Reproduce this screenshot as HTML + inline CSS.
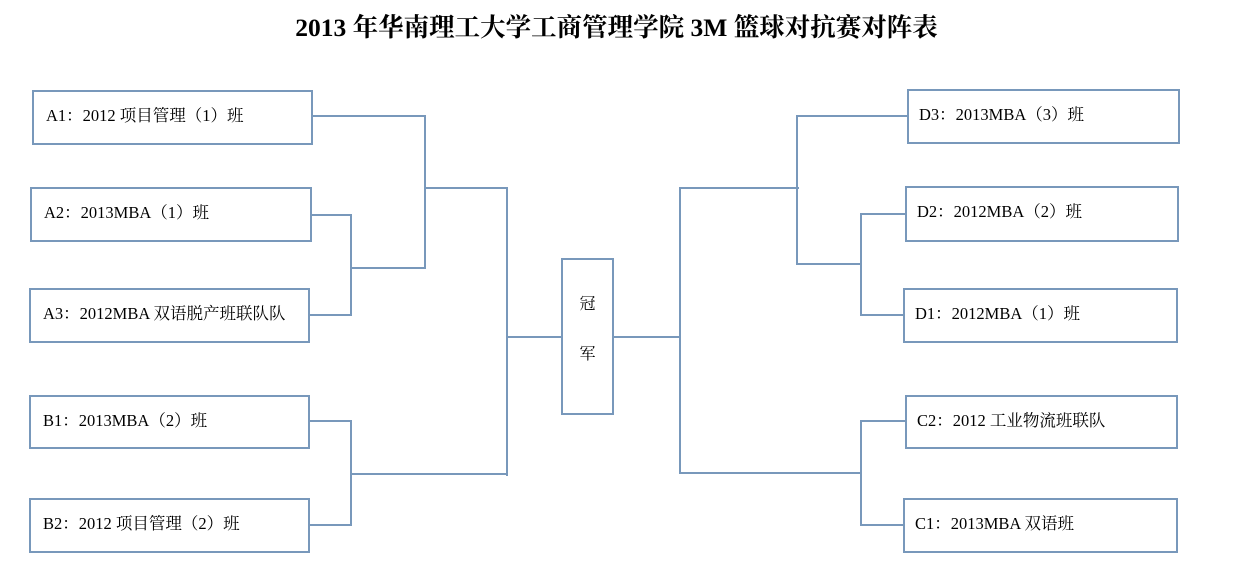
<!DOCTYPE html>
<html><head><meta charset="utf-8"><style>
body{margin:0;background:#fff;width:1233px;height:587px;overflow:hidden;position:relative;font-family:"Liberation Serif","Noto Serif CJK SC","Noto Sans CJK SC",serif;}
.t{position:absolute;top:8px;left:0;width:1233px;text-align:center;font-weight:bold;font-size:25.5px;color:#000;}
.b{position:absolute;box-sizing:border-box;border:2px solid #7898bb;font-size:16.5px;color:#000;line-height:20px;padding-top:14px;white-space:nowrap;}
.h{position:absolute;height:2px;background:#7898bb;}
.v{position:absolute;width:2px;background:#7898bb;}
</style></head><body>
<div class="t">2013 年华南理工大学工商管理学院 3M 篮球对抗赛对阵表</div>

<div class="b" style="left:32px;top:90px;width:281px;height:55px;padding-left:12px">A1：2012 项目管理（1）班</div>
<div class="b" style="left:30px;top:187px;width:282px;height:55px;padding-left:12px">A2：2013MBA（1）班</div>
<div class="b" style="left:29px;top:288px;width:281px;height:55px;padding-left:12px">A3：2012MBA 双语脱产班联队队</div>
<div class="b" style="left:29px;top:395px;width:281px;height:54px;padding-left:12px">B1：2013MBA（2）班</div>
<div class="b" style="left:29px;top:498px;width:281px;height:55px;padding-left:12px">B2：2012 项目管理（2）班</div>

<div class="b" style="left:907px;top:89px;width:273px;height:55px;padding-left:10px">D3：2013MBA（3）班</div>
<div class="b" style="left:905px;top:186px;width:274px;height:56px;padding-left:10px">D2：2012MBA（2）班</div>
<div class="b" style="left:903px;top:288px;width:275px;height:55px;padding-left:10px">D1：2012MBA（1）班</div>
<div class="b" style="left:905px;top:395px;width:273px;height:54px;padding-left:10px">C2：2012 工业物流班联队</div>
<div class="b" style="left:903px;top:498px;width:275px;height:55px;padding-left:10px">C1：2013MBA 双语班</div>

<div class="b" style="left:561px;top:258px;width:53px;height:157px;padding:0;text-align:center;font-size:16px">
<div style="position:absolute;top:35px;left:0;width:100%">冠</div>
<div style="position:absolute;top:85px;left:0;width:100%">军</div></div>

<div class="h" style="left:312px;top:115px;width:114px"></div>
<div class="v" style="left:424px;top:115px;height:154px"></div>
<div class="h" style="left:311px;top:214px;width:41px"></div>
<div class="h" style="left:309px;top:314px;width:43px"></div>
<div class="v" style="left:350px;top:214px;height:102px"></div>
<div class="h" style="left:350px;top:267px;width:76px"></div>
<div class="h" style="left:426px;top:187px;width:82px"></div>
<div class="v" style="left:506px;top:187px;height:289px"></div>
<div class="h" style="left:309px;top:420px;width:43px"></div>
<div class="h" style="left:309px;top:524px;width:43px"></div>
<div class="v" style="left:350px;top:420px;height:106px"></div>
<div class="h" style="left:350px;top:473px;width:158px"></div>
<div class="h" style="left:506px;top:336px;width:56px"></div>

<div class="h" style="left:613px;top:336px;width:68px"></div>
<div class="v" style="left:679px;top:187px;height:287px"></div>
<div class="h" style="left:679px;top:187px;width:120px"></div>
<div class="v" style="left:796px;top:115px;height:150px"></div>
<div class="h" style="left:796px;top:115px;width:111px"></div>
<div class="h" style="left:796px;top:263px;width:66px"></div>
<div class="v" style="left:860px;top:213px;height:103px"></div>
<div class="h" style="left:860px;top:213px;width:45px"></div>
<div class="h" style="left:860px;top:314px;width:43px"></div>
<div class="h" style="left:679px;top:472px;width:183px"></div>
<div class="v" style="left:860px;top:420px;height:106px"></div>
<div class="h" style="left:860px;top:420px;width:45px"></div>
<div class="h" style="left:860px;top:524px;width:43px"></div>
</body></html>
